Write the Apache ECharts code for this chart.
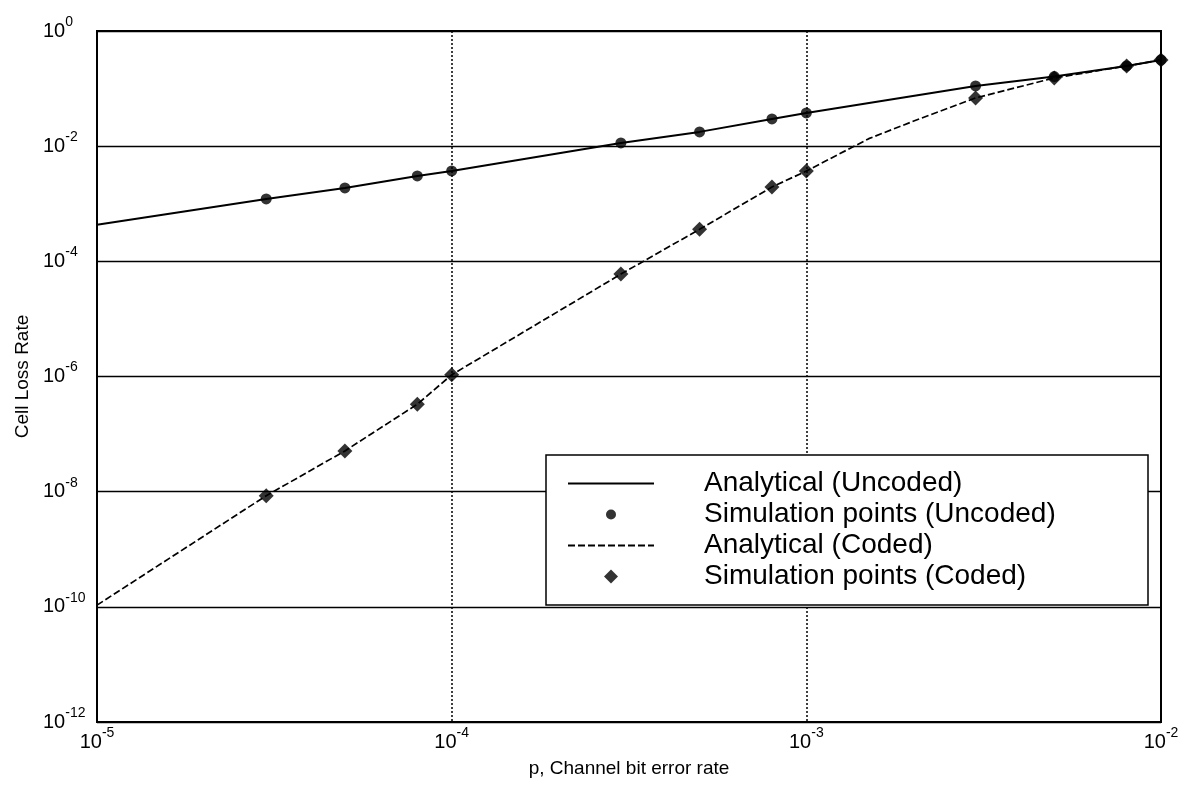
<!DOCTYPE html>
<html>
<head>
<meta charset="utf-8">
<script src="https://cdn.jsdelivr.net/npm/echarts@6/dist/echarts.min.js"></script>
<style>
html,body{margin:0;padding:0;background:#fff;}
#c{width:1183px;height:788px;}
</style>
</head>
<body>
<div id="c"></div>
<script>
// ---- data ----
const pSim = [3e-5, 5e-5, 8e-5, 1e-4, 3e-4, 5e-4, 8e-4, 1e-3, 3e-3, 5e-3, 8e-3, 1e-2];
const simUncoded = [1.21e-3, 1.88e-3, 3.04e-3, 3.71e-3, 1.14e-2, 1.77e-2, 2.97e-2, 3.77e-2, 0.111, 0.162, 0.247, 0.314];
const simCoded = [8.5e-9, 5.1e-8, 3.3e-7, 1.07e-6, 6.0e-5, 3.6e-4, 1.95e-3, 3.7e-3, 0.0687, 0.153, 0.247, 0.314];

const pLineUncoded = [1e-5, 3e-5, 5e-5, 8e-5, 1e-4, 3e-4, 5e-4, 8e-4, 1e-3, 3e-3, 5e-3, 8e-3, 1e-2];
const lineUncoded = [4.3e-4, 1.21e-3, 1.88e-3, 3.04e-3, 3.71e-3, 1.14e-2, 1.77e-2, 2.97e-2, 3.77e-2, 0.111, 0.162, 0.247, 0.314];

const pLineCoded = [1e-5, 3e-5, 5e-5, 8e-5, 1e-4, 3e-4, 5e-4, 8e-4, 1e-3, 1.5e-3, 2e-3, 3e-3, 5e-3, 8e-3, 1e-2];
const lineCoded = [1.07e-10, 8.5e-9, 5.1e-8, 3.3e-7, 1.07e-6, 6.0e-5, 3.6e-4, 1.95e-3, 3.7e-3, 1.35e-2, 2.7e-2, 0.0687, 0.153, 0.247, 0.314];

const seriesNames = ['Analytical (Uncoded)', 'Simulation points (Uncoded)', 'Analytical (Coded)', 'Simulation points (Coded)'];
const xAxisTitle = 'p, Channel bit error rate';
const yAxisTitle = 'Cell Loss Rate';

// ---- chart ----
const FONT = '"Liberation Sans", Arial, Helvetica, sans-serif';
const pairs = (xs, ys) => xs.map((x, i) => [x, ys[i]]);
const expOf = v => Math.round(Math.log10(v));
const powRich = {
  b: {fontFamily: FONT, fontSize: 20, lineHeight: 32, color: '#000', verticalAlign: 'middle'},
  s: {fontFamily: FONT, fontSize: 14, lineHeight: 14, color: '#000', verticalAlign: 'top'}
};
// legend marker icons: small marker centred in an 86x14 box (the moves set the box)
const legendCircle = 'path://M0,0M86,14M38,7a5,5 0 1,0 10,0a5,5 0 1,0 -10,0Z';
const legendDiamond = 'path://M0,0M86,14M36,7L43,0L50,7L43,14Z';

const chart = echarts.init(document.getElementById('c'), null, {renderer: 'canvas'});

const option = {
  animation: false,
  backgroundColor: '#fff',
  textStyle: {fontFamily: FONT, color: '#000'},
  grid: {
    left: 97, right: 22, top: 31, bottom: 66,
    show: true, borderColor: '#000', borderWidth: 2, backgroundColor: 'transparent'
  },
  xAxis: {
    type: 'log', logBase: 10, min: 1e-5, max: 1e-2, interval: 1,
    name: xAxisTitle, nameLocation: 'middle', nameGap: 37,
    nameTextStyle: {fontFamily: FONT, fontSize: 19, color: '#000'},
    axisLine: {show: true, lineStyle: {color: '#000', width: 2}},
    axisTick: {show: false},
    splitLine: {show: true, lineStyle: {color: '#000', width: 1.5, type: [2, 2]}},
    axisLabel: {
      margin: 4,
      formatter: v => '{b|10}{s|' + expOf(v) + '}',
      rich: powRich
    }
  },
  yAxis: {
    type: 'log', logBase: 10, min: 1e-12, max: 1, interval: 2,
    name: yAxisTitle, nameLocation: 'middle', nameGap: 62,
    nameTextStyle: {fontFamily: FONT, fontSize: 19, color: '#000'},
    axisLine: {show: true, lineStyle: {color: '#000', width: 2}},
    axisTick: {show: false},
    splitLine: {show: true, lineStyle: {color: '#000', width: 1.3}},
    axisLabel: {
      margin: 54, align: 'left',
      formatter: v => '{b|10}{s|' + expOf(v) + '}',
      rich: powRich
    }
  },
  legend: {
    orient: 'vertical', left: 546, top: 455,
    padding: [13, 22, 13, 21], itemGap: 0, itemWidth: 86, itemHeight: 14,
    backgroundColor: '#fff', borderColor: '#000', borderWidth: 1.5,
    selectedMode: false, symbolKeepAspect: true,
    data: [
      {name: seriesNames[0], itemStyle: {opacity: 0}},
      {name: seriesNames[1], icon: legendCircle},
      {name: seriesNames[2], itemStyle: {opacity: 0}},
      {name: seriesNames[3], icon: legendDiamond}
    ],
    formatter: n => '{g|}{t|' + n + '}',
    textStyle: {
      fontFamily: FONT, fontSize: 28, lineHeight: 31, color: '#000',
      rich: {
        g: {width: 45, lineHeight: 31, fontSize: 28},
        t: {width: 422, fontFamily: FONT, fontSize: 28, lineHeight: 31, color: '#000'}
      }
    }
  },
  series: [
    {
      name: seriesNames[0], type: 'line', data: pairs(pLineUncoded, lineUncoded),
      symbol: 'none', showSymbol: false, silent: true, z: 2,
      lineStyle: {color: '#000', width: 2},
      itemStyle: {color: '#000', opacity: 0},
      emphasis: {disabled: true}
    },
    {
      name: seriesNames[1], type: 'scatter', data: pairs(pSim, simUncoded),
      symbol: 'circle', symbolSize: 11, silent: true, z: 4,
      itemStyle: {color: '#000'},
      emphasis: {disabled: true}
    },
    {
      name: seriesNames[2], type: 'line', data: pairs(pLineCoded, lineCoded),
      symbol: 'none', showSymbol: false, silent: true, z: 3,
      lineStyle: {color: '#000', width: 1.7, type: [7, 3]},
      itemStyle: {color: '#000', opacity: 0},
      emphasis: {disabled: true}
    },
    {
      name: seriesNames[3], type: 'scatter', data: pairs(pSim, simCoded),
      symbol: 'diamond', symbolSize: 15, symbolKeepAspect: true, silent: true, z: 4,
      itemStyle: {color: '#000'},
      emphasis: {disabled: true}
    }
  ]
};
chart.setOption(option);
</script>
</body>
</html>
